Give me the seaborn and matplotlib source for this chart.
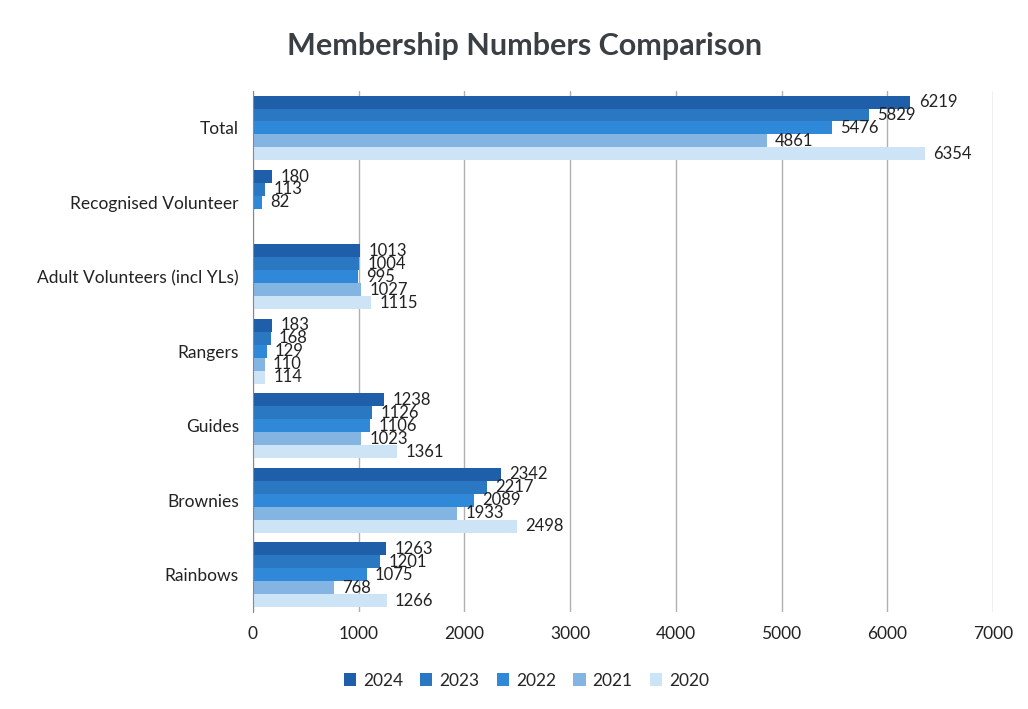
import matplotlib
matplotlib.use('Agg')
import matplotlib.pyplot as plt
import numpy as np
import pandas as pd
import seaborn as sns

# Data
categories = ['Total', 'Recognised Volunteer', 'Adult Volunteers (incl YLs)', 'Rangers',
              'Guides', 'Brownies', 'Rainbows']
years = ['2024', '2023', '2022', '2021', '2020']
v2024 = [6219, 180, 1013, 183, 1238, 2342, 1263]
v2023 = [5829, 113, 1004, 168, 1126, 2217, 1201]
v2022 = [5476, 82, 995, 129, 1106, 2089, 1075]
v2021 = [4861, np.nan, 1027, 110, 1023, 1933, 768]
v2020 = [6354, np.nan, 1115, 114, 1361, 2498, 1266]
colors = ['#1f5ea8', '#2a77c2', '#2f88d8', '#84b4e2', '#cde3f6']

series = {'2024': v2024, '2023': v2023, '2022': v2022, '2021': v2021, '2020': v2020}
rows = []
for yr, vals in series.items():
    for cat, v in zip(categories, vals):
        rows.append({'category': cat, 'year': yr, 'value': v})
df = pd.DataFrame(rows).dropna()

sns.set_style('white')
plt.rcParams['font.family'] = ['Lato', 'DejaVu Sans']

fig = plt.figure(figsize=(10.28, 7.09), dpi=100)
ax = fig.add_axes([0.246, 0.137, 0.72, 0.735])

sns.barplot(data=df, y='category', x='value', hue='year', order=categories,
            hue_order=years, palette=colors, orient='h', width=0.87,
            saturation=1, ax=ax, legend=True, edgecolor='none')

for cont in ax.containers:
    ax.bar_label(cont, fmt='%d', padding=6, fontsize=12, color='#222222')

ax.set_xlim(0, 7000)
ax.set_xticks(range(0, 7001, 1000))
ax.grid(axis='x', color='#b0b0b0', linewidth=1)
ax.set_axisbelow(True)
for side in ['top', 'right', 'bottom']:
    ax.spines[side].set_visible(False)
ax.spines['left'].set_color('#888888')
ax.set_xlabel('')
ax.set_ylabel('')
ax.tick_params(axis='both', labelsize=12.5, colors='#222222', length=0, pad=10)

fig.suptitle('Membership Numbers Comparison', x=0.51, y=0.955, fontsize=22,
             fontweight='bold', color='#3a3f44')

handles, labels = ax.get_legend_handles_labels()
ax.legend_.remove()
fig.legend(handles, labels, loc='center', bbox_to_anchor=(0.512, 0.04), ncol=5,
           frameon=False, fontsize=12.5, handlelength=0.7, handleheight=0.7,
           columnspacing=1.0, handletextpad=0.4)

fig.savefig('out.png', dpi=100, facecolor='white')
